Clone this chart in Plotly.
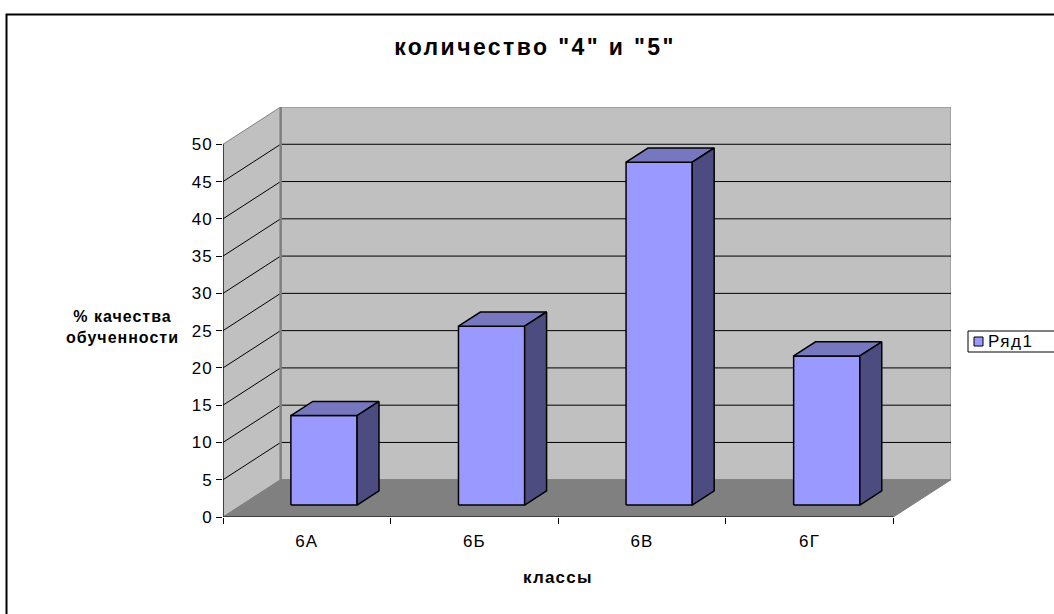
import plotly.graph_objects as go

# ---------------- data ----------------
categories = ["6А", "6Б", "6В", "6Г"]
values = [12, 24, 46, 20]
series_name = "Ряд1"
y_tick_values = [0, 5, 10, 15, 20, 25, 30, 35, 40, 45, 50]
chart_title = 'количество "4" и "5"'
x_axis_title = "классы"
y_axis_title_lines = ["% качества", "обученности"]

# ---------------- 3D look (pseudo projection) ----------------
DX, DY = 0.344, 5.0          # screen offset of full depth, in axis units
BX0, BX1 = 0.295, 0.69       # bar extent inside its category
BD0, BD1 = 0.32, 0.70        # bar extent in depth
YMAX = max(y_tick_values)
N = len(categories)

FRONT, TOP, SIDE = "#9999FF", "#7777C0", "#4C4C80"
WALL, FLOOR, EDGE = "#C0C0C0", "#808080", "#808080"


def proj(x, v, d):
    return x + d * DX, v + d * DY


def poly(points, fill, line_color, line_width):
    pts = [proj(*p) for p in points]
    pts.append(pts[0])
    return go.Scatter(x=[p[0] for p in pts], y=[p[1] for p in pts], mode="lines",
                      fill="toself", fillcolor=fill,
                      line=dict(color=line_color, width=line_width),
                      hoverinfo="skip", showlegend=False)


def segs(seglist, color, width):
    xs, ys = [], []
    for a, b in seglist:
        pa, pb = proj(*a), proj(*b)
        xs += [pa[0], pb[0], None]
        ys += [pa[1], pb[1], None]
    return go.Scatter(x=xs, y=ys, mode="lines", line=dict(color=color, width=width),
                      hoverinfo="skip", showlegend=False)


def spaced(text, ls, bold=False):
    t = '<span style="letter-spacing:%spx">%s</span>' % (ls, text)
    return "<b>" + t + "</b>" if bold else t


fig = go.Figure()
# back wall, side wall, floor
fig.add_trace(poly([(0, 0, 1), (N, 0, 1), (N, YMAX, 1), (0, YMAX, 1)], WALL, EDGE, 1))
fig.add_trace(poly([(0, 0, 0), (0, 0, 1), (0, YMAX, 1), (0, YMAX, 0)], WALL, EDGE, 1))
fig.add_trace(poly([(0, 0, 0), (N, 0, 0), (N, 0, 1), (0, 0, 1)], FLOOR, FLOOR, 1))
# gridlines
grid = []
for v in y_tick_values[1:-1]:
    grid.append(((0, v, 1), (N, v, 1)))
    grid.append(((0, v, 0), (0, v, 1)))
fig.add_trace(segs(grid, "black", 1))
# wall corner edge
fig.add_trace(segs([((0, 0, 1), (0, YMAX, 1))], EDGE, 2.5))
# axis lines
fig.add_trace(segs([((0, 0, 0), (0, YMAX, 0)), ((0, 0, 0), (N, 0, 0))], "black", 1.2))

# bars
for i, v in enumerate(values):
    x0, x1 = i + BX0, i + BX1
    fig.add_trace(poly([(x0, 0, BD0), (x1, 0, BD0), (x1, v, BD0), (x0, v, BD0)], FRONT, "black", 1.5))
    fig.add_trace(poly([(x0, v, BD0), (x1, v, BD0), (x1, v, BD1), (x0, v, BD1)], TOP, "black", 1.5))
    fig.add_trace(poly([(x1, 0, BD0), (x1, 0, BD1), (x1, v, BD1), (x1, v, BD0)], SIDE, "black", 1.5))

# ---------------- layout ----------------
W, H = 1054, 614
ML, MR, MT, MB = 223, 103, 107, 97
PW, PH = W - ML - MR, H - MT - MB


def px(p):
    return (p - ML) / PW


def py(q):
    return (H - MB - q) / PH


FONT = "Liberation Sans, Arial, sans-serif"
fig.update_layout(
    width=W, height=H, margin=dict(l=ML, r=MR, t=MT, b=MB, pad=0),
    paper_bgcolor="white", plot_bgcolor="white", showlegend=False,
    font=dict(family=FONT, color="black", size=17),
    title=dict(text=spaced(chart_title, 2.4, bold=True), x=535 / W, xref="container", xanchor="center",
               y=1 - 47 / H, yref="container", yanchor="middle",
               font=dict(family=FONT, size=23, color="black")),
)
fig.update_xaxes(range=[0, N + DX], tickvals=[i + 0.5 for i in range(N)],
                 ticktext=[spaced(c, 1.2) for c in categories],
                 ticks="", showgrid=False, zeroline=False, showline=False,
                 tickfont=dict(size=17), ticklabelstandoff=12,
                 minor=dict(tickmode="linear", tick0=0, dtick=1, ticks="outside", ticklen=6,
                            tickcolor="black", tickwidth=1, showgrid=False),
                 fixedrange=True)
fig.update_yaxes(range=[0, YMAX + DY], tickvals=y_tick_values,
                 ticktext=[spaced(str(t), 1.0) for t in y_tick_values],
                 ticks="outside", ticklen=6,
                 tickcolor="black", tickwidth=1, showgrid=False, zeroline=False, showline=False,
                 tickfont=dict(size=17), fixedrange=True)

# axis titles
fig.add_annotation(text=spaced(x_axis_title, 1.2, bold=True), xref="paper", yref="paper",
                   x=px(558), y=py(577), showarrow=False, font=dict(size=17),
                   xanchor="center", yanchor="middle")
fig.add_annotation(text="<br>".join(spaced(s, 1.0, bold=True) for s in y_axis_title_lines),
                   xref="paper", yref="paper",
                   x=px(181), y=py(327), showarrow=False, font=dict(size=16),
                   xanchor="right", yanchor="middle", align="center")

# legend (manual, Excel style)
fig.add_shape(type="rect", xref="paper", yref="paper", x0=px(968), x1=px(1070), y0=py(352), y1=py(331),
              line=dict(color="black", width=1), fillcolor="white")
fig.add_shape(type="rect", xref="paper", yref="paper", x0=px(974), x1=px(983), y0=py(346), y1=py(337),
              line=dict(color="black", width=1), fillcolor=FRONT)
fig.add_annotation(text=spaced(series_name, 1.5), xref="paper", yref="paper", x=px(986), y=py(341.5),
                   showarrow=False, xanchor="left", yanchor="middle", font=dict(size=17))

# outer chart border
fig.add_shape(type="rect", xref="paper", yref="paper", x0=px(6.5), x1=px(1080), y0=py(640), y1=py(14.5),
              line=dict(color="black", width=2), fillcolor="rgba(0,0,0,0)", layer="above")

fig.write_html("out.html")
